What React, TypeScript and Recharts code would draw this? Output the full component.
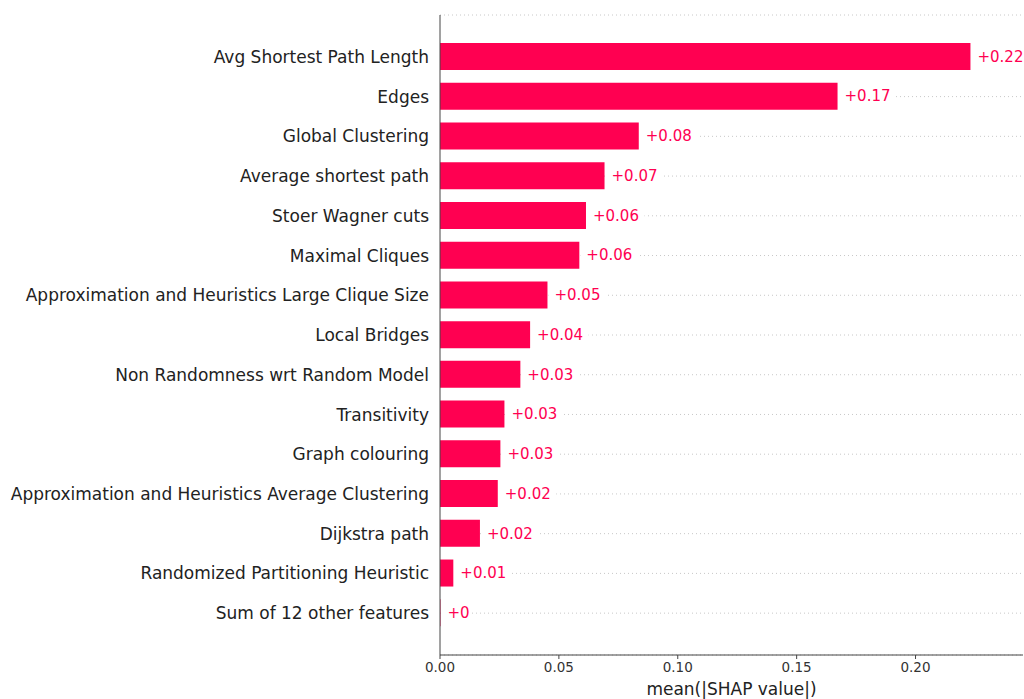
import React from 'react';
import { Bar, BarChart, CartesianGrid, LabelList, XAxis, YAxis } from 'recharts';

const features = [
  'Avg Shortest Path Length',
  'Edges',
  'Global Clustering',
  'Average shortest path',
  'Stoer Wagner cuts',
  'Maximal Cliques',
  'Approximation and Heuristics Large Clique Size',
  'Local Bridges',
  'Non Randomness wrt Random Model',
  'Transitivity',
  'Graph colouring',
  'Approximation and Heuristics Average Clustering',
  'Dijkstra path',
  'Randomized Partitioning Heuristic',
  'Sum of 12 other features',
];

const meanAbsShap = [
  0.2231, 0.1672, 0.0836, 0.0692, 0.0614, 0.0586, 0.0452, 0.0379, 0.0338, 0.0271, 0.0254, 0.0243,
  0.0168, 0.0056, 0.0002,
];

const xTicks = [0, 0.05, 0.1, 0.15, 0.2];

const RED = '#ff0051';

const data = features.map((name, i) => ({ name, value: meanAbsShap[i] }));

// shap-style: "+0.22", trailing zeros stripped ("+0")
const fmt = (v: number) => {
  let s = v.toFixed(2);
  if (s.includes('.')) s = s.replace(/0+$/, '').replace(/\.$/, '');
  return '+' + s;
};

const ValueLabel = (props: any) => {
  const { x, y, width, height, value } = props;
  const txt = fmt(value);
  const left = x + width + 1;
  const cy = y + height / 2;
  return (
    <g>
      <rect x={left} y={cy - 9} width={txt.length * 9.5 + 10} height={18} fill="#fff" />
      <text x={x + width + 7} y={cy} dy="0.35em" fill={RED} fontSize={15} fontFamily="DejaVu Sans">
        {txt}
      </text>
    </g>
  );
};

export default function App() {
  return (
    <div style={{ position: 'absolute', left: 0, top: 0, width: 1024, height: 699, overflow: 'hidden', background: '#fff' }}>
      <BarChart
        width={1024}
        height={699}
        data={data}
        layout="vertical"
        margin={{ top: 15, right: 1, bottom: 0, left: 0 }}
      >
        <CartesianGrid horizontal vertical={false} stroke="#c8c8c8" strokeDasharray="1 3" />
        <XAxis
          type="number"
          domain={[0, 0.2452]}
          ticks={xTicks}
          tickFormatter={(v: number) => v.toFixed(2)}
          height={44}
          stroke="#444"
          tickSize={4}
          tickMargin={3}
          tick={{ fill: '#333', fontSize: 13.5, fontFamily: 'DejaVu Sans' }}
          label={{
            value: 'mean(|SHAP value|)',
            position: 'insideBottom',
            offset: 4,
            fill: '#222',
            fontSize: 17,
            fontFamily: 'DejaVu Sans',
          }}
        />
        <YAxis
          type="category"
          dataKey="name"
          width={440}
          stroke="#444"
          tickLine={false}
          tickSize={0}
          tickMargin={11}
          padding={{ top: 22, bottom: 22 }}
          interval={0}
          tick={{ fill: '#222', fontSize: 17, fontFamily: 'DejaVu Sans' }}
        />
        <Bar dataKey="value" fill={RED} barSize={27} isAnimationActive={false}>
          <LabelList dataKey="value" content={ValueLabel} />
        </Bar>
      </BarChart>
    </div>
  );
}
